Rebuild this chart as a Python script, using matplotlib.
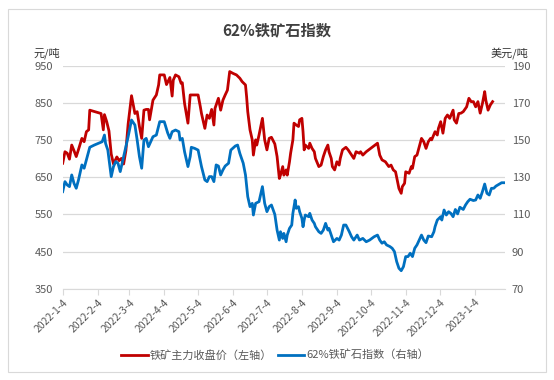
import pandas as pd
import matplotlib
matplotlib.use('Agg')
import matplotlib.pyplot as plt
from matplotlib.patches import Rectangle

plt.rcParams['font.family'] = ['Noto Sans CJK SC', 'DejaVu Sans']

start = pd.Timestamp('2022-01-04')

# 铁矿主力收盘价 (left axis), days counted from 2022-01-04
red_day = [0, 2, 4, 6, 8, 10, 12, 14, 17, 19, 21, 23, 24, 34, 36, 37, 39, 41, 43, 45,
           48, 50, 52, 54, 56, 58, 61, 64, 66, 68, 70, 72, 74, 76, 77, 80, 83, 85, 86, 90,
           92, 95, 97, 98, 100, 103, 105, 106, 108, 111, 113, 120, 122, 123, 126, 128, 130, 132, 134, 135,
           138, 140, 142, 144, 146, 148, 151, 154, 157, 159, 162, 163, 164, 166, 168, 169, 171, 172, 174, 177,
           179, 181, 183, 185, 188, 190, 192, 193, 195, 196, 198, 199, 201, 202, 204, 205, 207, 209, 210, 212,
           213, 214, 215, 218, 219, 221, 223, 224, 227, 229, 231, 233, 235, 236, 238, 239, 241, 243, 245, 246,
           248, 251, 253, 256, 258, 260, 263, 264, 266, 269, 279, 281, 283, 286, 289, 291, 293, 295, 297, 298,
           300, 301, 303, 304, 307, 309, 310, 312, 314, 316, 318, 320, 322, 324, 326, 327, 330, 332, 333, 335,
           337, 339, 341, 343, 346, 347, 349, 351, 353, 355, 358, 360, 362, 364, 366, 368, 370, 372, 374, 375,
           377, 379, 381]
red_val = [688, 719, 715, 699, 737, 722, 706, 725, 755, 746, 773, 778, 831, 822, 778, 819, 800, 775, 713, 686,
           705, 695, 701, 686, 722, 794, 870, 822, 827, 787, 755, 831, 833, 833, 805, 858, 872, 899, 926, 926,
           900, 919, 869, 912, 926, 921, 903, 905, 849, 796, 872, 872, 840, 822, 782, 818, 809, 833, 791, 836,
           863, 831, 858, 872, 885, 935, 930, 926, 917, 908, 899, 867, 827, 778, 751, 710, 751, 737, 764, 809,
           751, 724, 755, 758, 740, 706, 647, 656, 679, 656, 670, 656, 692, 715, 751, 796, 791, 787, 805, 809,
           773, 724, 737, 728, 742, 728, 719, 701, 679, 683, 706, 724, 737, 719, 701, 679, 670, 692, 683, 701,
           724, 731, 724, 710, 701, 719, 715, 719, 710, 719, 742, 710, 697, 692, 679, 683, 670, 665, 634, 620,
           607, 625, 634, 665, 661, 679, 674, 706, 710, 733, 755, 746, 728, 746, 755, 751, 773, 764, 782, 800,
           769, 809, 818, 809, 831, 805, 796, 822, 823, 827, 840, 863, 854, 854, 840, 854, 823, 849, 881, 858,
           831, 845, 854]

# 62%铁矿石指数 (right axis)
blue_day = [0, 2, 4, 6, 8, 10, 12, 14, 17, 19, 21, 24, 28, 33, 35, 37, 38, 40, 43, 45,
            47, 49, 51, 54, 58, 61, 64, 66, 68, 70, 72, 74, 76, 80, 83, 86, 90, 93, 95, 97,
            100, 103, 104, 106, 108, 111, 113, 114, 117, 120, 123, 126, 128, 130, 132, 134, 136, 138, 140, 142,
            144, 147, 149, 153, 155, 157, 160, 162, 164, 166, 168, 169, 171, 174, 177, 179, 181, 183, 185, 188,
            190, 192, 193, 195, 196, 198, 199, 201, 203, 204, 206, 207, 209, 210, 212, 213, 214, 215, 218, 219,
            221, 223, 224, 227, 229, 231, 233, 235, 236, 238, 240, 243, 245, 247, 249, 251, 254, 256, 258, 261,
            263, 266, 269, 272, 276, 279, 281, 283, 285, 287, 290, 292, 294, 296, 298, 300, 302, 304, 306, 308,
            310, 312, 314, 316, 318, 320, 322, 324, 327, 329, 330, 332, 335, 336, 338, 340, 342, 344, 346, 348,
            350, 352, 355, 357, 359, 361, 364, 366, 368, 370, 372, 374, 376, 378, 380, 382, 384, 387, 389, 391]
blue_val = [122.3, 127.7, 125.9, 125.0, 131.3, 126.8, 124.1, 128.6, 136.7, 134.9, 139.4, 146.2, 147.4, 148.7, 149.2, 152.8, 148.3, 144.7, 130.4, 135.8,
            138.5, 137.6, 133.1, 141.2, 151.9, 160.9, 158.2, 150.1, 141.2, 134.9, 150.1, 151.0, 146.5, 151.9, 152.8, 160.0, 160.0, 154.0, 151.0, 154.6,
            155.5, 154.6, 150.1, 151.0, 143.8, 135.8, 141.2, 146.2, 145.6, 144.7, 135.8, 128.6, 127.7, 130.4, 130.4, 127.7, 136.7, 136.1, 131.3, 134.0,
            136.1, 137.6, 144.7, 146.9, 147.4, 142.9, 137.6, 131.3, 119.6, 114.2, 116.0, 109.7, 116.0, 116.9, 125.0, 116.0, 111.5, 114.2, 115.1, 110.0,
            101.6, 96.2, 100.7, 97.1, 99.8, 95.3, 98.9, 102.5, 104.3, 110.6, 117.8, 113.3, 114.2, 111.5, 107.9, 103.4, 107.0, 109.7, 108.8, 110.6,
            107.0, 105.2, 103.4, 100.7, 99.8, 101.6, 105.2, 101.6, 102.5, 98.9, 95.3, 97.1, 96.2, 98.9, 104.3, 104.3, 100.7, 98.0, 96.2, 98.9,
            96.2, 97.1, 95.3, 96.2, 98.0, 98.9, 96.2, 94.5, 95.3, 93.6, 92.7, 91.8, 90.0, 84.6, 81.0, 79.7, 81.9, 87.3, 87.3, 89.1,
            87.3, 91.8, 93.6, 96.2, 98.9, 96.2, 94.8, 98.4, 98.0, 100.7, 103.4, 107.0, 108.8, 107.0, 112.4, 109.7, 111.5, 110.6, 108.8, 112.7,
            110.3, 113.9, 112.7, 115.1, 116.9, 118.2, 117.5, 117.8, 120.5, 118.7, 122.3, 126.4, 121.4, 120.5, 124.1, 124.1, 125.3, 126.4, 127.1, 127.1]

left_ticks = [350, 450, 550, 650, 750, 850, 950]
right_ticks = [70, 90, 110, 130, 150, 170, 190]
month_ticks = pd.date_range('2022-01-01', '2023-01-01', freq='MS') + pd.Timedelta(days=3)

red_dates = start + pd.to_timedelta(red_day, unit='D')
blue_dates = start + pd.to_timedelta(blue_day, unit='D')

fig = plt.figure(figsize=(5.54, 3.80), dpi=100)
fig.patches.append(Rectangle((8 / 554, 1 - 372 / 380), 538 / 554, 363 / 380,
                             transform=fig.transFigure, fill=False, ec='#d9d9d9', lw=0.8))

ax = fig.add_axes([62.7 / 554, 1 - 288.7 / 380, (505 - 62.7) / 554, (288.7 - 66) / 380])
ax2 = ax.twinx()

l1, = ax.plot(red_dates, red_val, color='#c00000', lw=2.0, label='铁矿主力收盘价（左轴）')
l2, = ax2.plot(blue_dates, blue_val, color='#0070c0', lw=2.0, label='62%铁矿石指数（右轴）')

ax.set_ylim(350, 950)
ax2.set_ylim(70, 190)
ax.set_yticks(left_ticks)
ax2.set_yticks(right_ticks)
ax.set_xlim(start, start + pd.Timedelta(days=392))
ax.set_xticks(month_ticks)
ax.set_xticklabels([f'{d.year}-{d.month}-{d.day}' for d in month_ticks],
                   rotation=45, ha='right', rotation_mode='anchor')

ax.grid(axis='y', color='#d9d9d9', lw=0.9)
ax.set_axisbelow(True)
for a in (ax, ax2):
    for s in ('top', 'left', 'right'):
        a.spines[s].set_visible(False)
    a.spines['bottom'].set_color('#d9d9d9')
ax2.spines['bottom'].set_visible(False)

ax.tick_params(axis='y', length=0, labelsize=8, labelcolor='#595959', pad=7)
ax2.tick_params(axis='y', length=0, labelsize=8, labelcolor='#595959', pad=5)
ax.tick_params(axis='x', length=4, color='#d9d9d9', labelsize=7.5, labelcolor='#595959', pad=2)

fig.text(277 / 554, 1 - 30 / 380, '62%铁矿石指数', ha='center', va='center',
         fontsize=11, fontweight='bold', color='#404040')
fig.text(34 / 554, 1 - 53 / 380, '元/吨', ha='left', va='center', fontsize=8, color='#333333')
fig.text(528 / 554, 1 - 53 / 380, '美元/吨', ha='right', va='center', fontsize=8, color='#333333')

fig.legend([l1, l2], [l1.get_label(), l2.get_label()], loc='center', ncol=2,
           bbox_to_anchor=(275 / 554, 1 - 355 / 380), frameon=False, fontsize=8,
           handlelength=2.4, handletextpad=0.15, columnspacing=0.5, labelcolor='#595959')

fig.savefig('out.png', dpi=100)
